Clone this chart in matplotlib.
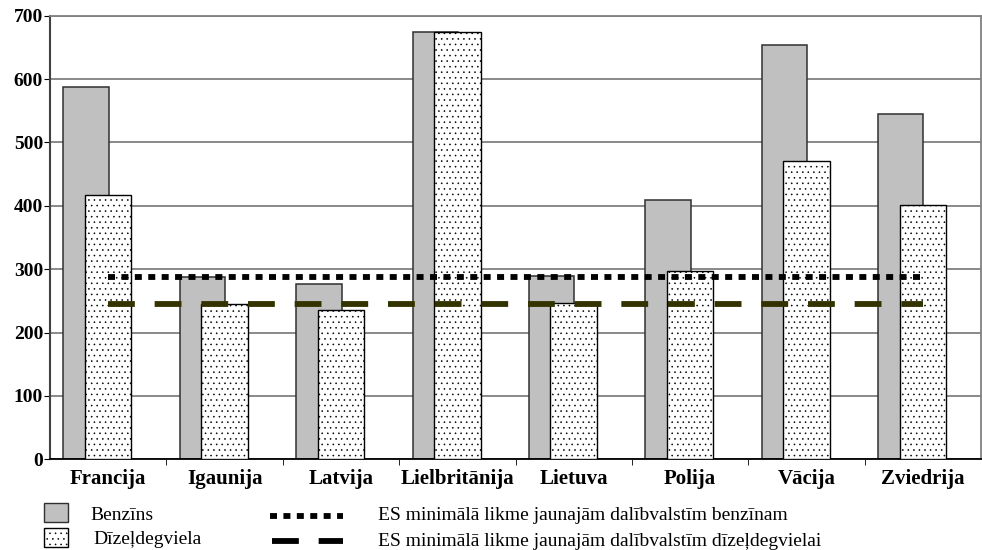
import numpy as np
import matplotlib
matplotlib.use('Agg')
import matplotlib.pyplot as plt
from matplotlib.patches import Rectangle
from matplotlib.lines import Line2D

plt.rcParams['font.family'] = ['Liberation Serif', 'DejaVu Serif']
plt.rcParams['hatch.linewidth'] = 0.4
plt.rcParams['hatch.color'] = 'black'

# Data
countries = ['Francija', 'Igaunija', 'Latvija', 'Lielbritānija', 'Lietuva',
             'Polija', 'Vācija', 'Zviedrija']
benzins = [588, 287, 276, 674, 289, 409, 654, 545]
dizelis = [417, 245, 236, 674, 247, 297, 471, 401]
min_benzins = 287
min_dizelis = 245
yticks = [0, 100, 200, 300, 400, 500, 600, 700]

W, H = 982, 550
fig = plt.figure(figsize=(W / 100, H / 100), dpi=100)
ax = fig.add_axes([50 / W, 90.7 / H, 931 / W, 443.6 / H])

x = np.arange(len(countries))

ax.bar(x - 0.19, benzins, width=0.39, color='#c0c0c0', edgecolor='#303030',
       linewidth=1.1, zorder=2)
ax.bar(x, dizelis, width=0.40, color='white', edgecolor='black',
       linewidth=1.0, hatch='...', zorder=3)

# EU minimum rate lines
ax.hlines(min_benzins, x[0], x[-1], colors='black', linewidth=4.2,
          linestyles=(0, (1.2, 1.1)), zorder=4)
ax.hlines(min_dizelis, x[0], x[-1], colors='#333300', linewidth=4.2,
          linestyles=(0, (4.6, 3.4)), zorder=4)

# Axes styling
ax.set_xlim(-0.5, len(countries) - 0.5)
ax.set_ylim(0, 700)
ax.set_yticks(yticks)
ax.set_yticklabels([str(v) for v in yticks], fontsize=14, fontweight='bold')
ax.set_xticks(x)
ax.set_xticklabels(countries, fontsize=15, fontweight='bold')
ax.set_xticks(x[:-1] + 0.5, minor=True)
ax.tick_params(axis='x', which='major', length=0, pad=7)
ax.tick_params(axis='x', which='minor', length=4, direction='out')
ax.tick_params(axis='y', length=4, direction='out', pad=1)
ax.grid(axis='y', color='#808080', linewidth=1.3, zorder=0)
ax.set_axisbelow(True)
ax.spines['left'].set_color('#404040')
ax.spines['left'].set_linewidth(1.5)
ax.spines['bottom'].set_color('black')
ax.spines['bottom'].set_linewidth(1.3)
ax.spines['top'].set_color('#808080')
ax.spines['top'].set_linewidth(1.3)
ax.spines['right'].set_color('#808080')
ax.spines['right'].set_linewidth(1.3)

# Legend drawn by hand in figure pixels
def fx(px):
    return px / W

def fy(py):
    return 1 - py / H

fig.patches.append(Rectangle((fx(44), fy(522)), 24 / W, 19 / H,
                             transform=fig.transFigure, facecolor='#c0c0c0',
                             edgecolor='#303030', linewidth=1.0))
fig.patches.append(Rectangle((fx(44), fy(547)), 24 / W, 19 / H,
                             transform=fig.transFigure, facecolor='white',
                             edgecolor='black', linewidth=1.0, hatch='...'))
fig.text(fx(90), fy(516), 'Benzīns', fontsize=14, va='center', ha='left')
fig.text(fx(93), fy(540), 'Dīzeļdegviela', fontsize=14, va='center', ha='left')

fig.add_artist(Line2D([fx(270), fx(343)], [fy(516), fy(516)],
                      transform=fig.transFigure, color='black', linewidth=4.2,
                      linestyle=(0, (1.2, 1.1)), solid_capstyle='butt'))
fig.add_artist(Line2D([fx(272), fx(343)], [fy(541), fy(541)],
                      transform=fig.transFigure, color='black', linewidth=4.2,
                      linestyle=(0, (4.6, 3.4))))
fig.text(fx(378), fy(516), 'ES minimālā likme jaunajām dalībvalstīm benzīnam',
         fontsize=14, va='center', ha='left')
fig.text(fx(378), fy(541), 'ES minimālā likme jaunajām dalībvalstīm dīzeļdegvielai',
         fontsize=14, va='center', ha='left')

fig.savefig('out.png', dpi=100)
